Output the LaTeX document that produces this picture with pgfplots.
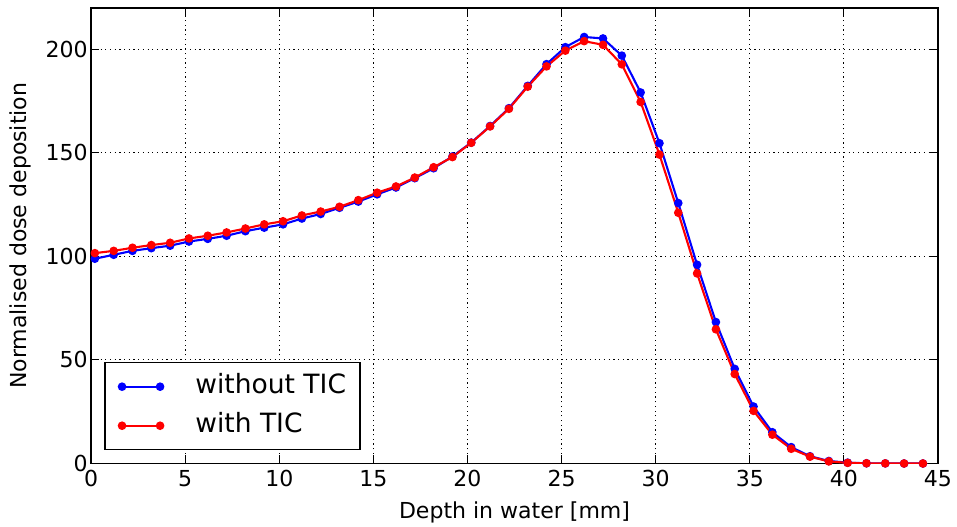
\documentclass[border=0pt]{standalone}
\usepackage{fontspec}
\setmainfont{DejaVu Sans}
\usepackage{pgfplots}
\usepackage{pgfplotstable}
\pgfplotsset{compat=1.18}
\pgfplotstableread{
x y
0.2 98.9
1.2 100.8
2.2 102.7
3.2 104.0
4.2 105.2
5.2 107.2
6.2 108.5
7.2 110.0
8.2 112.2
9.2 113.9
10.2 115.5
11.2 118.3
12.2 120.5
13.2 123.5
14.2 126.5
15.2 130.0
16.2 133.3
17.2 137.8
18.2 142.6
19.2 148.3
20.2 155.0
21.2 163.0
22.2 171.6
23.2 182.4
24.2 192.9
25.2 201.1
26.2 206.0
27.2 205.3
28.2 197.0
29.2 179.2
30.2 154.7
31.2 125.8
32.2 96.0
33.2 68.3
34.2 45.7
35.2 27.5
36.2 15.1
37.2 7.9
38.2 3.5
39.2 1.2
40.2 0.4
41.2 0.1
42.2 0.05
43.2 0.0
44.2 0.0
}\withoutTIC
\pgfplotstableread{
x y
0.2 101.6
1.2 102.7
2.2 104.2
3.2 105.5
4.2 106.6
5.2 108.7
6.2 110.0
7.2 111.6
8.2 113.5
9.2 115.5
10.2 117.0
11.2 119.8
12.2 121.7
13.2 124.0
14.2 127.2
15.2 130.8
16.2 133.8
17.2 138.1
18.2 143.1
19.2 148.0
20.2 154.9
21.2 162.8
22.2 171.3
23.2 182.0
24.2 191.8
25.2 199.4
26.2 204.0
27.2 202.2
28.2 192.8
29.2 174.6
30.2 149.2
31.2 121.1
32.2 91.8
33.2 64.8
34.2 43.2
35.2 25.4
36.2 13.9
37.2 7.1
38.2 3.3
39.2 1.0
40.2 0.3
41.2 0.1
42.2 0.05
43.2 0.0
44.2 0.0
}\withTIC
\begin{document}
\begin{tikzpicture}
\begin{axis}[
  scale only axis,
  width=846bp, height=455bp,
  xmin=0, xmax=45, ymin=0, ymax=220,
  xtick={0,5,...,45}, ytick={0,50,...,200},
  tick align=inside,
  tick pos=both,
  major tick length=8bp,
  grid=major,
  grid style={black, line width=1bp, dash pattern=on 1.2bp off 3.5bp},
  axis line style={black, line width=1.4bp},
  every tick/.style={black, line width=1bp},
  tick label style={font=\fontsize{22bp}{26bp}\selectfont},
  xticklabel style={yshift=-3bp},
  label style={font=\fontsize{22bp}{26bp}\selectfont},
  /pgf/number format/assume math mode=true,
  xlabel={Depth in water [mm]},
  ylabel={Normalised dose deposition},
  xlabel style={at={(axis description cs:0.5,-0.1077)}, anchor=center},
  ylabel style={at={(axis description cs:-0.0839,0.5)}, anchor=center},
  legend style={at={(0.0154,0.0286)}, anchor=south west,
    draw=black, line width=1.4bp, fill=white,
    font=\fontsize{26.5bp}{30bp}\selectfont,
    inner xsep=14bp, inner ysep=4.5bp, row sep=0bp,
    nodes={text height=19bp, text depth=6bp, inner ysep=7bp, inner xsep=0bp}},
  legend cell align=left,
  legend image code/.code={
    \draw[#1] plot coordinates {(0bp,0bp) (38bp,0bp)};
  },
]
\addplot[blue, line width=2.1bp, mark=*, mark size=3.2bp, mark options={solid}] table[x=x,y=y] {\withoutTIC};
\addlegendentry{\hspace*{32bp}without TIC}
\addplot[red, line width=2.1bp, mark=*, mark size=3.2bp, mark options={solid}] table[x=x,y=y] {\withTIC};
\addlegendentry{\hspace*{32bp}with TIC}
\end{axis}
\path (current axis.south west)+(-91bp,-63bp) rectangle ([shift={(19bp,8bp)}]current axis.north east);
\end{tikzpicture}
\end{document}
